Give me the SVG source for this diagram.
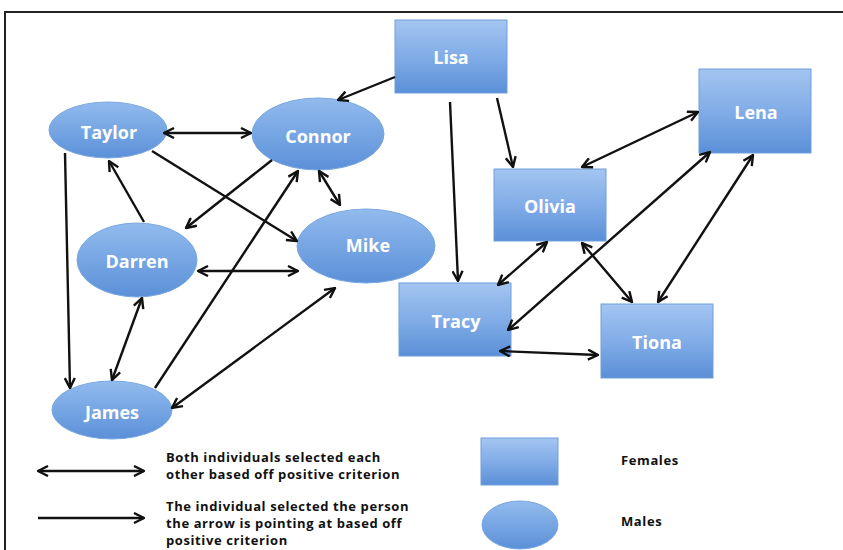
<svg xmlns="http://www.w3.org/2000/svg" width="843" height="550" viewBox="0 0 843 550">
<defs>
<linearGradient id="gb" x1="0" y1="0" x2="0" y2="1">
<stop offset="0" stop-color="#a3c5f1"/>
<stop offset="0.55" stop-color="#7eaae6"/>
<stop offset="1" stop-color="#5a8fd7"/>
</linearGradient>
<linearGradient id="ge" x1="0" y1="0" x2="0" y2="1">
<stop offset="0" stop-color="#92bbee"/>
<stop offset="1" stop-color="#5b90d8"/>
</linearGradient>
<marker id="ah" viewBox="0 0 12 12" refX="11" refY="6" markerWidth="12" markerHeight="12" markerUnits="userSpaceOnUse" orient="auto-start-reverse">
<path d="M1,1 L11,6 L1,11" fill="none" stroke="#111" stroke-width="2.4"/>
</marker>
<style>
.box{fill:url(#gb);stroke:#6f9fdc;stroke-width:1}
.ell{fill:url(#ge);stroke:#7aa7e0;stroke-width:1}
.lbl{font-family:"Open Sans","DejaVu Sans",sans-serif;font-weight:bold;font-size:18px;fill:#fff;text-anchor:middle}
.leg{font-family:"Open Sans","DejaVu Sans",sans-serif;font-weight:bold;font-size:13px;letter-spacing:0.6px;fill:#111}
.c{fill:none;stroke:#111;stroke-width:2.4}
.one{marker-end:url(#ah)}
.two{marker-start:url(#ah);marker-end:url(#ah)}
</style>
</defs>
<rect width="843" height="550" fill="#fff"/>
<path d="M5,550 V12 H843" fill="none" stroke="#222" stroke-width="2"/>

<g id="Lisa"><rect class="box" x="395" y="20" width="112" height="73"/><text class="lbl" x="451" y="64">Lisa</text></g>
<g id="Lena"><rect class="box" x="699" y="69" width="112" height="84"/><text class="lbl" x="756" y="119">Lena</text></g>
<g id="Olivia"><rect class="box" x="494" y="169" width="112" height="72"/><text class="lbl" x="550" y="213">Olivia</text></g>
<g id="Tracy"><rect class="box" x="399" y="283" width="112" height="73"/><text class="lbl" x="456" y="328">Tracy</text></g>
<g id="Tiona"><rect class="box" x="601" y="304" width="112" height="74"/><text class="lbl" x="657" y="349">Tiona</text></g>

<g id="Taylor"><ellipse class="ell" cx="108" cy="130" rx="59" ry="28"/><text class="lbl" x="109" y="139">Taylor</text></g>
<g id="Connor"><ellipse class="ell" cx="318" cy="134" rx="66" ry="36"/><text class="lbl" x="318" y="143">Connor</text></g>
<g id="Mike"><ellipse class="ell" cx="366" cy="246" rx="69" ry="37"/><text class="lbl" x="368" y="252">Mike</text></g>
<g id="Darren"><ellipse class="ell" cx="137" cy="260" rx="60" ry="37"/><text class="lbl" x="137" y="268">Darren</text></g>
<g id="James"><ellipse class="ell" cx="112" cy="410" rx="60" ry="29"/><text class="lbl" x="112" y="419">James</text></g>

<g id="connectors">
<line class="c one" x1="395" y1="77" x2="338" y2="100"/>
<line class="c two" x1="164" y1="133" x2="251" y2="133"/>
<line class="c one" x1="152" y1="151" x2="297" y2="241"/>
<line class="c one" x1="272" y1="160" x2="186" y2="228"/>
<line class="c one" x1="144" y1="222" x2="109" y2="161"/>
<line class="c two" x1="319" y1="171" x2="340" y2="205"/>
<line class="c two" x1="198" y1="271" x2="298" y2="271"/>
<line class="c one" x1="65" y1="153" x2="70" y2="388"/>
<line class="c two" x1="142" y1="298" x2="112" y2="380"/>
<line class="c one" x1="155" y1="388" x2="298" y2="171"/>
<line class="c two" x1="172" y1="408" x2="335" y2="288"/>
<line class="c one" x1="450" y1="102" x2="458" y2="281"/>
<line class="c one" x1="497" y1="98" x2="513" y2="167"/>
<line class="c two" x1="582" y1="167" x2="698" y2="112"/>
<line class="c two" x1="508" y1="330" x2="710" y2="152"/>
<line class="c two" x1="547" y1="242" x2="498" y2="285"/>
<line class="c two" x1="582" y1="243" x2="632" y2="302"/>
<line class="c two" x1="753" y1="155" x2="658" y2="302"/>
<line class="c two" x1="500" y1="351" x2="598" y2="355"/>
<line class="c two" x1="38" y1="471" x2="144" y2="471"/>
<line class="c one" x1="38" y1="518" x2="144" y2="518"/>
</g>

<g id="legend">
<text class="leg" x="166" y="462">Both individuals selected each</text>
<text class="leg" x="166" y="479">other based off positive criterion</text>
<text class="leg" x="166" y="511">The individual selected the person</text>
<text class="leg" x="166" y="528">the arrow is pointing at based off</text>
<text class="leg" x="166" y="545">positive criterion</text>
<rect class="box" x="481" y="438" width="77" height="47"/>
<ellipse class="ell" cx="520" cy="525" rx="38" ry="24"/>
<text class="leg" x="621" y="465">Females</text>
<text class="leg" x="621" y="526">Males</text>
</g>
</svg>
